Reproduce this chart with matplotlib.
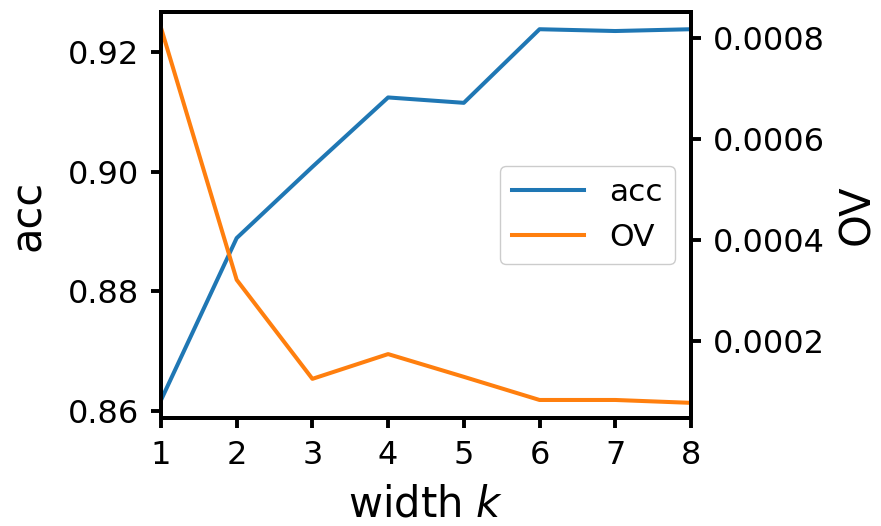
import numpy as np
from matplotlib import pyplot as plt

# width k vs accuracy and OV
widths = [1, 2, 3, 4, 5, 6, 7, 8]
acc = [0.8618, 0.8889, 0.9008, 0.9124, 0.9115, 0.9238, 0.9235, 0.9238]
ov = [0.000820, 0.000321, 0.000125, 0.000174, 0.000129, 0.0000832, 0.0000832, 0.0000775]

plt.rcParams['font.family'] = ['DejaVu Sans']

fig, ax = plt.subplots(figsize=(8.81, 5.26), dpi=100)
fig.subplots_adjust(left=0.1827, right=0.7843, bottom=0.2053, top=0.9772)
ax2 = ax.twinx()

l1, = ax.plot(widths, acc, color='#1f77b4', lw=2.9, label='acc')
l2, = ax2.plot(widths, ov, color='#ff7f0e', lw=2.9, label='OV')

ax.set_xlim(1, 8)
ax.set_ylim(0.85883, 0.92668)
ax2.set_ylim(0.0000475, 0.000851)
ax.set_xticks(widths)
ax.set_yticks([0.86, 0.88, 0.90, 0.92])
ax2.set_yticks([0.0002, 0.0004, 0.0006, 0.0008])
ax.set_yticklabels(['0.86', '0.88', '0.90', '0.92'])
ax2.set_yticklabels(['0.0002', '0.0004', '0.0006', '0.0008'])

ax.set_xlabel('width $k$', fontsize=30, labelpad=9)
ax.set_ylabel('acc', fontsize=30, labelpad=14)
ax2.set_ylabel('OV', fontsize=30, labelpad=8)

for a in (ax, ax2):
    a.tick_params(labelsize=23, width=2.8, length=7.5, pad=8)
    for s in a.spines.values():
        s.set_linewidth(2.8)

ax2.legend([l1, l2], ['acc', 'OV'], loc='center right', fontsize=22.5,
           handlelength=2.3, framealpha=1)

fig.savefig('out.png', dpi=100)
